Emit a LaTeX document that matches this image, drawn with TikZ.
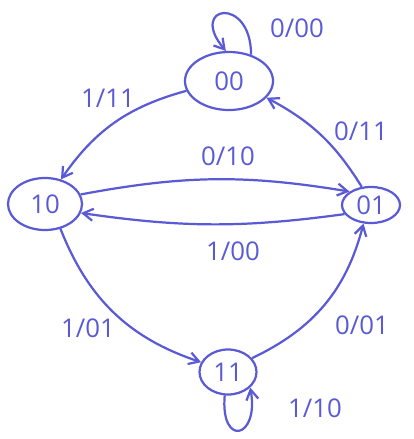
\documentclass[tikz,border=0pt]{standalone}
\usepackage{fontspec}
\setmainfont{Open Sans}
\usetikzlibrary{arrows.meta,shapes.geometric}
\definecolor{PenBlue}{HTML}{5A5AD6}

\begin{document}
\begin{tikzpicture}[
  x=0.03cm, y=-0.03cm,
  state/.style={draw=PenBlue, ellipse, line width=1.9pt, inner sep=0pt, text=PenBlue, font=\fontsize{22}{24}\selectfont},
  lbl/.style={text=PenBlue, inner sep=0pt, font=\fontsize{22}{24}\selectfont},
  arrow/.style={-{Straight Barb[length=3mm,width=3.6mm]}, line width=1.9pt, PenBlue}
]
\useasboundingbox (0,0) rectangle (414,439);

% states
\node[state, minimum width=2.64cm, minimum height=1.74cm] (s00) at (229,81) {00};
\node[state, minimum width=2.22cm, minimum height=1.56cm] (s10) at (45,204) {10};
\node[state, minimum width=1.74cm, minimum height=1.08cm] (s01) at (371,205) {01};
\node[state, minimum width=1.71cm, minimum height=1.35cm] (s11) at (228,372) {11};

% labels
\node[lbl] (l0000) at (297,28) {0/00};
\node[lbl] (l1111) at (108,98) {1/11};
\node[lbl] (l0011) at (361,131) {0/11};
\node[lbl] (l0010) at (228,156) {0/10};
\node[lbl] (l1100) at (233,251) {1/00};
\node[lbl] (l1101) at (88,328) {1/01};
\node[lbl] (l0001) at (362,325) {0/01};
\node[lbl] (l1110) at (315,408) {1/10};

% transitions
\draw[arrow] (s00.50) to[out=90, in=130, looseness=6] (s00.96);
\draw[arrow] (s00.193) to[bend right=20] (s10.57);
\draw[arrow] (s01.117) to[bend right=15] (s00.336);
\draw[arrow] (s10.15) to[bend left=10] (s01.148);
\draw[arrow] (s01.199) to[bend left=8] (s10.346);
\draw[arrow] (s10.302) to[bend right=25] (s11.160);
\draw[arrow] (s11.30) to[bend right=25] (s01.248);
\draw[arrow] (s11.262) to[out=-95, in=-80, looseness=5] (s11.325);
\end{tikzpicture}
\end{document}
